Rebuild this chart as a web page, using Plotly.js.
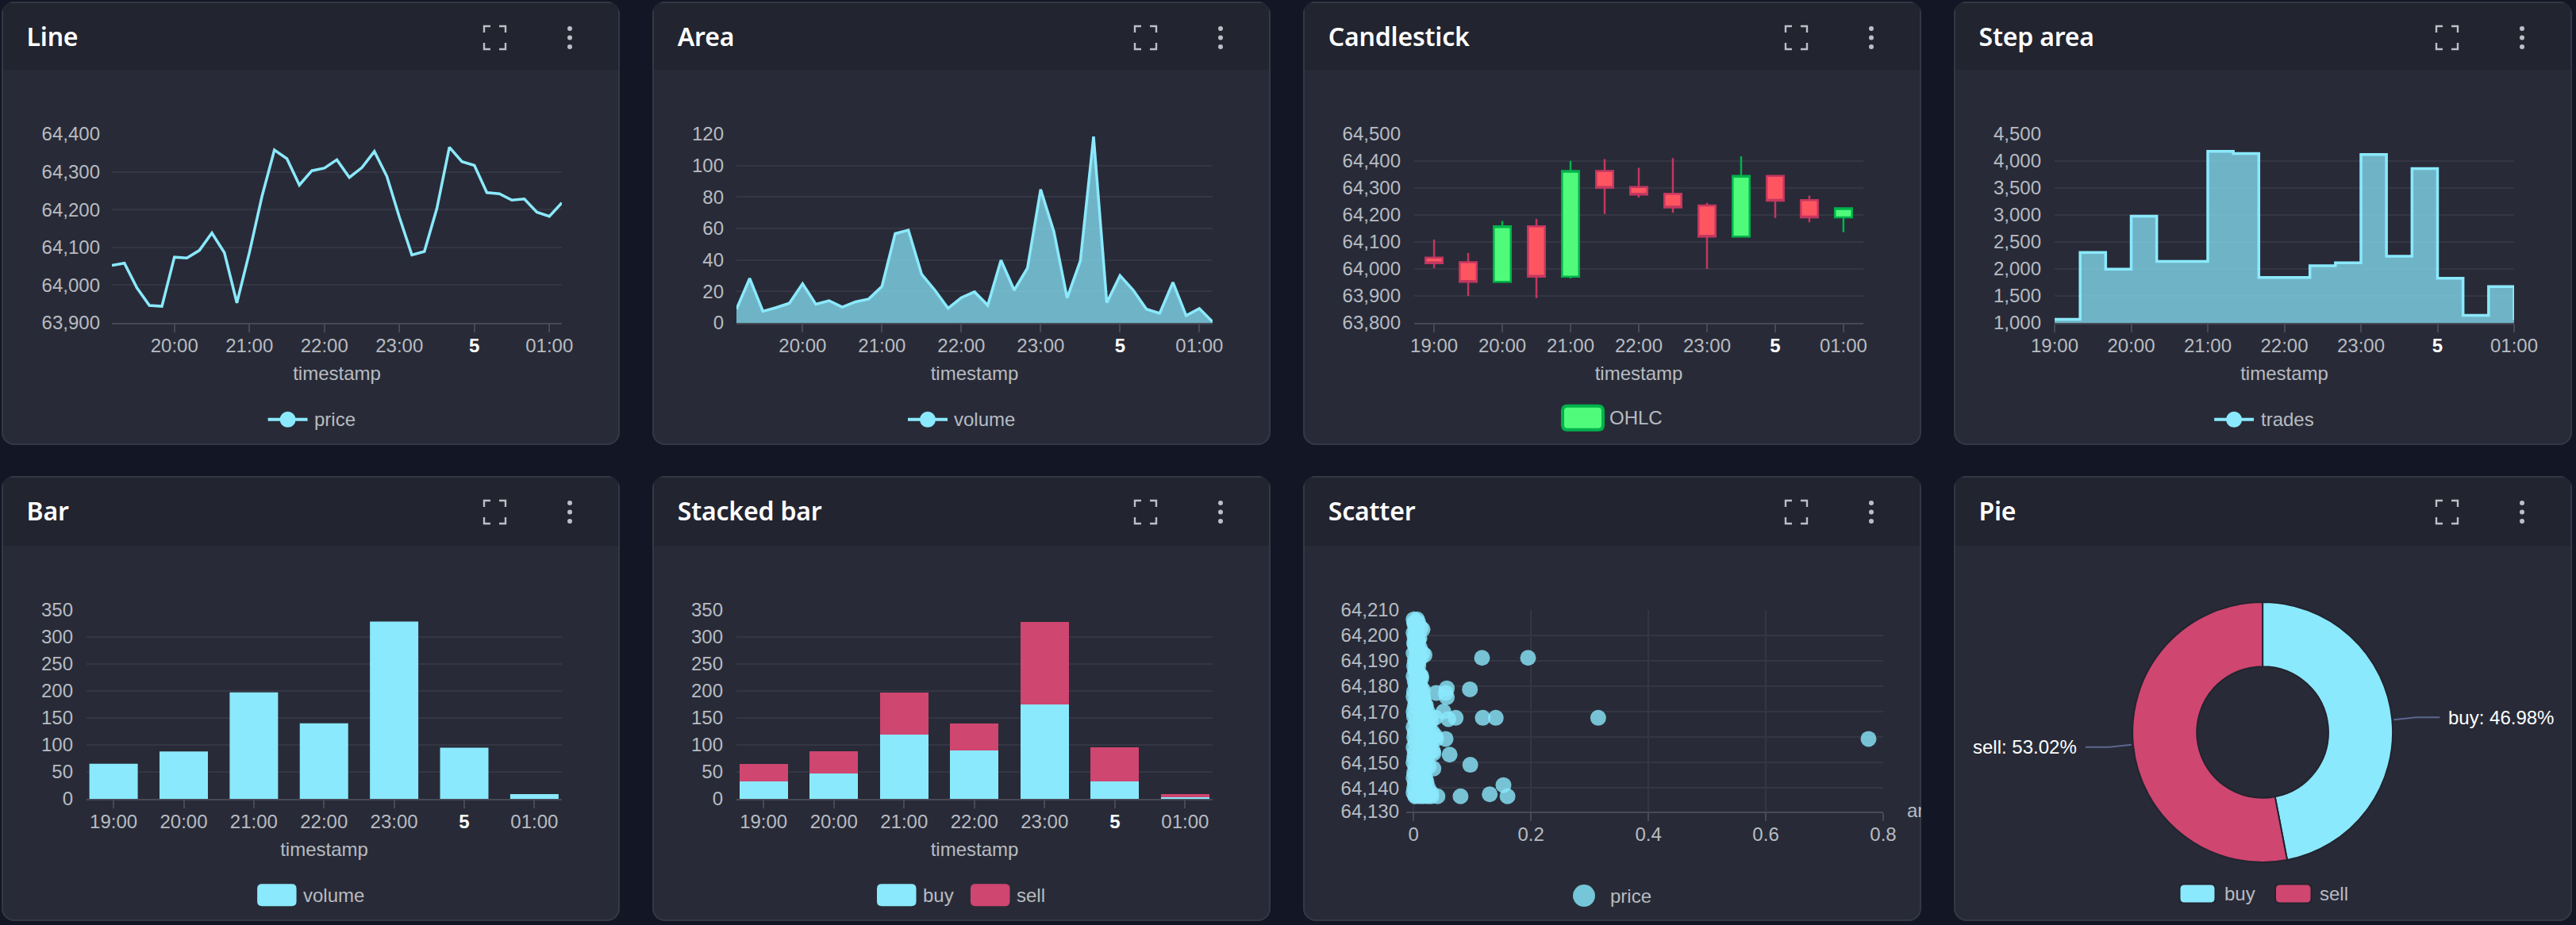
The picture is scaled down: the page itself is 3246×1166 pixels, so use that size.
<!DOCTYPE html>
<html><head><meta charset="utf-8">
<script src="https://cdn.plot.ly/plotly-3.0.1.min.js"></script>
<style>
html,body{margin:0;padding:0;background:#131725;width:3246px;height:1166px;overflow:hidden}
.card{position:absolute;width:779px;height:559px;background:#282b37;border-radius:16px;box-shadow:inset 0 0 0 2px #343744;overflow:hidden}
.head{position:absolute;left:0;top:0;right:0;height:86px;background:#22242f;box-shadow:inset 0 2px 0 #343744,inset 2px 0 0 #343744,inset -2px 0 0 #343744}
.title{position:absolute;left:32px;top:21px;font:600 32px/46px "Noto Sans",sans-serif;color:#fff;letter-spacing:-.2px}
.head svg{position:absolute;left:605px;top:28px}
.plot{position:absolute;left:0;top:86px;width:779px;height:473px}
</style></head><body>
<div id="root"></div>
<script>
// ---- shared labels
const tenMinuteLabels=['19:10','19:20','19:30','19:40','19:50','20:00','20:10','20:20','20:30','20:40','20:50','21:00','21:10','21:20','21:30','21:40','21:50','22:00','22:10','22:20','22:30','22:40','22:50','23:00','23:10','23:20','23:30','23:40','23:50','00:00','00:10','00:20','00:30','00:40','00:50','01:00','01:10'];
const twentyMinuteLabels=['19:00','19:20','19:40','20:00','20:20','20:40','21:00','21:20','21:40','22:00','22:20','22:40','23:00','23:20','23:40','00:00','00:20','00:40','01:00'];
const halfHourLabels=['19:00','19:30','20:00','20:30','21:00','21:30','22:00','22:30','23:00','23:30','00:00','00:30','01:00'];
const hourLabels=['19:00','20:00','21:00','22:00','23:00','00:00','01:00'];
const hourTickText=['19:00','20:00','21:00','22:00','23:00','<span style="color:#ffffff;font-weight:bold"><b>5</b></span>','01:00'];
// ---- line
const linePrice=[64052,64058,63993,63946,63944,64074,64072,64092,64138,64086,63953,64086,64234,64358,64335,64265,64303,64310,64332,64285,64311,64354,64288,64180,64080,64089,64203,64365,64327,64317,64245,64242,64225,64228,64193,64182,64218];
// ---- area
const areaVolume=[8.7,28.3,7.4,9.7,12.5,24.9,11.9,14.1,10,13.4,15.2,23.2,56.7,58.9,30.9,20.8,9.3,16,19.7,11.2,39.8,20.8,34.8,84.8,58,15.8,39.4,118.4,12.8,30.1,20.8,8.7,6.1,25.8,4.6,9.1,0.7];
// ---- candlestick
const candleOpen=[64042,64025,63952,64158,63971,64363,64304,64279,64235,64120,64345,64255,64191];
const candleHigh=[64109,64059,64178,64185,64401,64407,64375,64411,64245,64418,64345,64272,64225];
const candleLow=[64003,63900,63952,63892,63965,64204,64265,64208,64000,64120,64189,64173,64136];
const candleClose=[64021,63952,64158,63971,64363,64301,64276,64228,64120,64345,64253,64191,64225];
// ---- step area
const stepTrades=[1065,2304,1995,2978,2141,2141,4179,4141,1842,1842,2060,2114,4120,2234,3859,1826,1141,1674,1055];
// ---- bars
const barVolume=[65,88,197.6,140,328.5,95,9];
const buyVolume=[33,47,119.5,90,175,32,3];
const sellVolume=[32,41,78,50,153.5,63,6];
// ---- scatter
const scatterOuterAmount=[0.1166,0.195,0.0959,0.0566,0.0386,0.0545,0.0566,0.051,0.0372,0.0593,0.0717,0.1179,0.14,0.3145,0.775,0.0545,0.0386,0.0614,0.0338,0.0966,0.0338,0.1531,0.1297,0.16,0.08,0.0407,0.0303,0.0166,0.0028,0.0186,0.0152,0.006,0,0.013,0.015,0.0166,0.01,0.02];
const scatterOuterPrice=[64191.2,64191.2,64178.8,64179.2,64177.4,64177.4,64175.7,64170,64167.7,64167.1,64167.6,64167.6,64167.6,64167.6,64159.3,64159.3,64159.3,64153.1,64153.6,64149.1,64147.6,64141.1,64137.5,64136.7,64136.7,64136.7,64136.7,64136.7,64136.7,64192.3,64202.4,64206.3,64206.3,64183.2,64176.3,64174.6,64144.2,64143.6];
const scatterColumnPrice=[64205,64203,64201,64199,64197,64195,64193,64190,64188,64186,64184,64182,64180,64178,64176,64174,64172,64170,64168,64166,64164,64162,64160,64158,64156,64154,64152,64150,64148,64146,64144,64142,64140,64138,64137];
const scatterColumnNear=[0.001,0.003,0,0.002,0.001,0.004,0,0.002,0.001,0.003,0,0.002,0.004,0.001,0,0.003,0.002,0,0.001,0.004,0,0.002,0.001,0.003,0,0.002,0.001,0,0.003,0.001,0,0.002,0.001,0,0.004];
const scatterColumnFar=[0.008,0.012,0.006,0.01,0.007,0.011,0.015,0.009,0.008,0.006,0.013,0.01,0.012,0.014,0.016,0.018,0.02,0.024,0.028,0.022,0.026,0.032,0.034,0.03,0.025,0.028,0.023,0.019,0.021,0.018,0.016,0.02,0.025,0.03,0.022];
const scatterMidPrice=[64204,64202,64200,64198,64196,64194,64192,64189,64187,64185,64183,64181,64179,64177,64175,64173,64171,64169,64167,64165,64163,64161,64159,64157,64155,64153,64151,64149,64147,64145,64143,64141,64139,64137,64136.7,64136.7];
const scatterMidAmount=[0.004,0.006,0.005,0.008,0.006,0.009,0.007,0.006,0.005,0.009,0.01,0.008,0.012,0.01,0.013,0.012,0.016,0.018,0.02,0.017,0.02,0.024,0.026,0.022,0.018,0.021,0.016,0.014,0.016,0.012,0.011,0.014,0.018,0.02,0.024,0.01];
const scatterDensePrice=[64204.5,64200.5,64196.5,64192.5,64189.5,64186.5,64183.5,64180.5,64177.5,64174.5,64171.5,64168.5,64165.5,64162.5,64159.5,64156.5,64153.5,64150.5,64147.5,64144.5,64141.5,64138.5,64205.5,64198.5,64191.5,64184.5,64178.5,64172.5,64166.5,64160.5,64154.5,64148.5,64142.5,64137.5];
const scatterDenseAmount=[0.002,0.003,0.002,0.005,0.004,0.003,0.006,0.004,0.007,0.006,0.009,0.012,0.014,0.012,0.016,0.014,0.012,0.01,0.009,0.007,0.01,0.012,0.005,0.007,0.012,0.011,0.016,0.021,0.03,0.037,0.033,0.026,0.022,0.028];
// ---- pie
const pieLabels=['buy','sell'];
const piePercent=[46.98,53.02];
const cardTitles=['Line','Area','Candlestick','Step area','Bar','Stacked bar','Scatter','Pie'];

// ---- style
const CYAN='#8be9fd',PINK='#cf4670',GREEN='#50fa7b',RED='#ff5560',GREENB='#00b34b',REDB='#c23760';
const TXT='#b8bbc2',GRID='#343743',AXIS='#474a56',FONT='"Liberation Sans",Arial,sans-serif';
const FILL='rgba(139,233,253,0.72)';
const cardX=[1.5,821.8,1641.8,2461.5], cardY=[2,600];

function t(s){ // clock label -> date on the axis
  const h=+s.slice(0,2);
  return (h<12?'2024-05-05 ':'2024-05-04 ')+s;
}
const hourDates=hourLabels.map(t);

function build(i){
  const col=i%4,row=i<4?0:1;
  const left=cardX[col],top=cardY[row];
  const el=document.createElement('div');
  el.className='card';el.style.left=left+'px';el.style.top=top+'px';
  if(row===1) el.style.height='561px';
  el.innerHTML=`<div class="head"${row===1?' style="height:88px"':''}><div class="title">${cardTitles[i]}</div>
  <svg width="120" height="36" viewBox="0 0 120 36" fill="none" stroke="#bdbfc6" stroke-width="2.4">
   <path d="M3 11V3H11M22 3H30V11M30 24V32H22M11 32H3V24"/>
   <circle cx="111" cy="6" r="3" fill="#bdbfc6" stroke="none"/><circle cx="111" cy="17.5" r="3" fill="#bdbfc6" stroke="none"/><circle cx="111" cy="29" r="3" fill="#bdbfc6" stroke="none"/>
  </svg></div><div class="plot"></div>`;
  document.getElementById('root').appendChild(el);
  return {div:el.querySelector('.plot'),ox:left,oy:top+86};
}

function xax(rangeA,rangeB,extra){
  return Object.assign({type:'date',range:[rangeA,rangeB],tickmode:'array',tickvals:hourDates,ticktext:hourTickText,
    ticks:'outside',ticklen:10,tickwidth:2,tickcolor:AXIS,showline:true,linecolor:AXIS,linewidth:2,showgrid:false,zeroline:false,
    tickfont:{family:FONT,size:24,color:TXT},tickangle:0,ticklabelstandoff:-4,
    title:{text:'timestamp',font:{family:FONT,size:24,color:TXT},standoff:14}},extra||{});
}
function yax(range,dtick,standoff,extra){
  return Object.assign({range:range,dtick:dtick,tickformat:',d',ticks:'',showline:false,gridcolor:GRID,gridwidth:2,zeroline:false,
    tickfont:{family:FONT,size:24,color:TXT},ticklabelstandoff:standoff},extra||{});
}
// legend drawn in page pixels through paper coordinates of the plot
function chart(i,box,traces,xaxis,yaxis,legend,extraLayout){
  const c=build(i),W=779,H=473;
  const ml=box.l-c.ox,mr=W-(box.r-c.ox),mt=box.t-c.oy,mb=H-(box.b-c.oy);
  const px=x=>(x-box.l)/(box.r-box.l), py=y=>1-(y-box.t)/(box.b-box.t);
  const shapes=[],annotations=[];
  legend.forEach(it=>{
    if(it.kind==='line'){
      shapes.push({type:'line',xref:'paper',yref:'paper',x0:px(it.x0),x1:px(it.x0+50),y0:py(it.y),y1:py(it.y),line:{color:CYAN,width:4}});
      shapes.push({type:'circle',xref:'paper',yref:'paper',x0:px(it.x0+15),x1:px(it.x0+35),y0:py(it.y-10),y1:py(it.y+10),fillcolor:CYAN,line:{width:0}});
    }else if(it.kind==='dot'){
      shapes.push({type:'circle',xref:'paper',yref:'paper',x0:px(it.x0),x1:px(it.x0+28),y0:py(it.y-14),y1:py(it.y+14),fillcolor:'#74c6d8',line:{width:0}});
    }else{
      const a=it.x0,b=it.x0+it.w,u=it.y-it.h/2,d=it.y+it.h/2,r=6;
      const P=(x,y)=>px(x)+','+py(y);
      shapes.push({type:'path',xref:'paper',yref:'paper',
        path:`M${P(a+r,u)}L${P(b-r,u)}Q${P(b,u)} ${P(b,u+r)}L${P(b,d-r)}Q${P(b,d)} ${P(b-r,d)}L${P(a+r,d)}Q${P(a,d)} ${P(a,d-r)}L${P(a,u+r)}Q${P(a,u)} ${P(a+r,u)}Z`,
        fillcolor:it.color,line:{color:it.border||it.color,width:it.bw||0}});
    }
    annotations.push({xref:'paper',yref:'paper',x:px(it.tx),y:py(it.y),text:it.text,showarrow:false,xanchor:'left',yanchor:'middle',
      font:{family:FONT,size:24,color:TXT}});
  });
  const layout=Object.assign({width:W,height:H,autosize:false,margin:{l:ml,r:mr,t:mt,b:mb,pad:0},
    paper_bgcolor:'rgba(0,0,0,0)',plot_bgcolor:'rgba(0,0,0,0)',showlegend:false,hovermode:false,
    xaxis,yaxis,shapes,annotations},extraLayout?extraLayout(px,py,shapes,annotations):{});
  Plotly.newPlot(c.div,traces,layout,{staticPlot:true,displayModeBar:false});
}

const tenDates=tenMinuteLabels.map(t);
// Line
chart(0,{l:140,r:708,t:168.7,b:407},
 [{type:'scatter',mode:'lines',x:tenDates,y:linePrice,line:{color:CYAN,width:3.5},cliponaxis:false}],
 xax(t('19:10'),t('01:10')),yax([63900,64400],100,14),
 [{kind:'line',x0:337,y:529,tx:393,text:'price'}]);
// Area
chart(1,{l:928,r:1528,t:168.7,b:407},
 [{type:'scatter',mode:'lines',x:tenDates,y:areaVolume,fill:'tozeroy',fillcolor:FILL,line:{color:CYAN,width:3.5},cliponaxis:false}],
 xax(t('19:10'),t('01:10')),yax([0,120],20,15),
 [{kind:'line',x0:1144,y:529,tx:1200,text:'volume'}]);
// Candlestick
chart(2,{l:1782,r:2348,t:168.7,b:407},
 [{type:'candlestick',x:halfHourLabels.map(t),open:candleOpen,high:candleHigh,low:candleLow,close:candleClose,
   increasing:{line:{color:GREENB,width:2.5},fillcolor:GREEN},decreasing:{line:{color:REDB,width:2.5},fillcolor:RED}}],
 xax('2024-05-04 18:42:30','2024-05-05 01:17:30',{rangeslider:{visible:false}}),yax([63800,64500],100,16),
 [{kind:'rect',x0:1969,w:51,y:527,h:30,color:GREEN,border:GREENB,bw:4,tx:2026,text:'OHLC'}],
 ()=>({boxgap:0.5,boxgroupgap:0}));
// Step area
chart(3,{l:2588,r:3168,t:168.7,b:407},
 [{type:'scatter',mode:'lines',x:twentyMinuteLabels.map(t),y:stepTrades,fill:'tozeroy',fillcolor:FILL,line:{color:CYAN,width:3.5,shape:'hv'},cliponaxis:false}],
 xax(t('19:00'),t('01:00')),yax([1000,4500],500,16),
 [{kind:'line',x0:2789.5,y:529,tx:2846,text:'trades'}]);
// Bar
const barWidth=0.69*3600000;
chart(4,{l:108,r:708,t:768.5,b:1007.3},
 [{type:'bar',x:hourDates,y:barVolume,width:barWidth,marker:{color:CYAN}}],
 xax('2024-05-04 18:36:50','2024-05-05 01:23:30'),yax([0,350],50,16),
 [{kind:'rect',x0:323.5,w:49.5,y:1129,h:28,color:CYAN,tx:379,text:'volume'}]);
// Stacked
chart(5,{l:928,r:1528,t:768.5,b:1007.3},
 [{type:'bar',x:hourDates,y:buyVolume,width:barWidth,marker:{color:CYAN}},
  {type:'bar',x:hourDates,y:sellVolume,width:barWidth,marker:{color:PINK}}],
 xax('2024-05-04 18:36:50','2024-05-05 01:23:30'),yax([0,350],50,16),
 [{kind:'rect',x0:1105,w:49.5,y:1129,h:28,color:CYAN,tx:1161,text:'buy'},
  {kind:'rect',x0:1223,w:49.5,y:1129,h:28,color:PINK,tx:1279,text:'sell'}],
 ()=>({barmode:'stack'}));
// Scatter
const priceTicks=[64130.7,64140,64150,64160,64170,64180,64190,64200,64210];
const priceTickText=['64,130','64,140','64,150','64,160','64,170','64,180','64,190','64,200','64,210'];
const dots={color:CYAN,size:20,opacity:.8,line:{width:0}};
chart(6,{l:1772,r:2373,t:768.5,b:1022.8},
 [{type:'scatter',mode:'markers',x:scatterColumnFar,y:scatterColumnPrice,marker:dots,cliponaxis:false},
  {type:'scatter',mode:'markers',x:scatterOuterAmount,y:scatterOuterPrice,marker:dots,cliponaxis:false},
  {type:'scatter',mode:'markers',x:scatterMidAmount,y:scatterMidPrice,marker:dots,cliponaxis:false},
  {type:'scatter',mode:'markers',x:scatterDenseAmount,y:scatterDensePrice,marker:dots,cliponaxis:false},
  {type:'scatter',mode:'markers',x:scatterColumnNear,y:scatterColumnPrice,marker:dots,cliponaxis:false}],
 {range:[-0.0125,0.8],dtick:0.2,ticks:'outside',ticklen:10,tickwidth:2,tickcolor:AXIS,showline:true,linecolor:AXIS,linewidth:2,ticklabelstandoff:-4,
  gridcolor:GRID,gridwidth:2,zeroline:false,tickfont:{family:FONT,size:24,color:TXT},tickformat:'~g'},
 yax([64130.7,64210],10,8,{tickmode:'array',tickvals:priceTicks,ticktext:priceTickText}),
 [{kind:'dot',x0:1982,y:1129,tx:2026.5,text:'price'}],
 (px,py,shapes,ann)=>{ann.push({xref:'paper',yref:'paper',x:px(2401),y:py(1021),text:'amount',showarrow:false,xanchor:'left',yanchor:'middle',font:{family:FONT,size:24,color:TXT}});return {};});
// Pie
(function(){
  const W=779,H=473;
  const box={l:cardX[3],r:cardX[3]+W,t:cardY[1]+86,b:cardY[1]+86+H};
  const cx=2850.6-box.l,cy=923-box.t,R=164;
  const sum=piePercent[0]+piePercent[1];
  const leaders=(px,py,shapes,ann)=>{
    let acc=0;
    piePercent.forEach((v,k)=>{
      const mid=(acc+v/2)/sum*2*Math.PI;acc+=v;
      const s=Math.sin(mid)>0?1:-1;
      const xa=box.l+cx+(R+2)*Math.sin(mid),ya=box.t+cy-(R+2)*Math.cos(mid);
      const yb=ya+(-Math.cos(mid)>0?1:-1)*3;
      const xb=xa+s*28,xc=xa+s*58;
      shapes.push({type:'path',xref:'paper',yref:'paper',path:`M${px(xa)},${py(ya)}L${px(xb)},${py(yb)}L${px(xc)},${py(yb)}`,line:{color:'#5c6690',width:2}});
      ann.push({xref:'paper',yref:'paper',x:px(xc+s*9),y:py(yb),text:pieLabels[k]+': '+v.toFixed(2)+'%',showarrow:false,xanchor:s>0?'left':'right',yanchor:'middle',font:{family:FONT,size:24,color:'#ffffff'}});
    });
    return {};
  };
  chart(7,box,
   [{type:'pie',labels:pieLabels,values:piePercent,hole:.505,sort:false,direction:'clockwise',rotation:0,textinfo:'none',
     marker:{colors:[CYAN,PINK],line:{color:'#22242f',width:2}},domain:{x:[(cx-R)/W,(cx+R)/W],y:[1-(cy+R)/H,1-(cy-R)/H]}}],
   {visible:false},{visible:false},
   [{kind:'rect',x0:2746,w:45,y:1126.5,h:24,color:CYAN,border:'#22242f',bw:2,tx:2800,text:'buy'},
    {kind:'rect',x0:2866.5,w:45.5,y:1126.5,h:24,color:PINK,border:'#22242f',bw:2,tx:2920.5,text:'sell'}],
   leaders);
})();
</script></body></html>
